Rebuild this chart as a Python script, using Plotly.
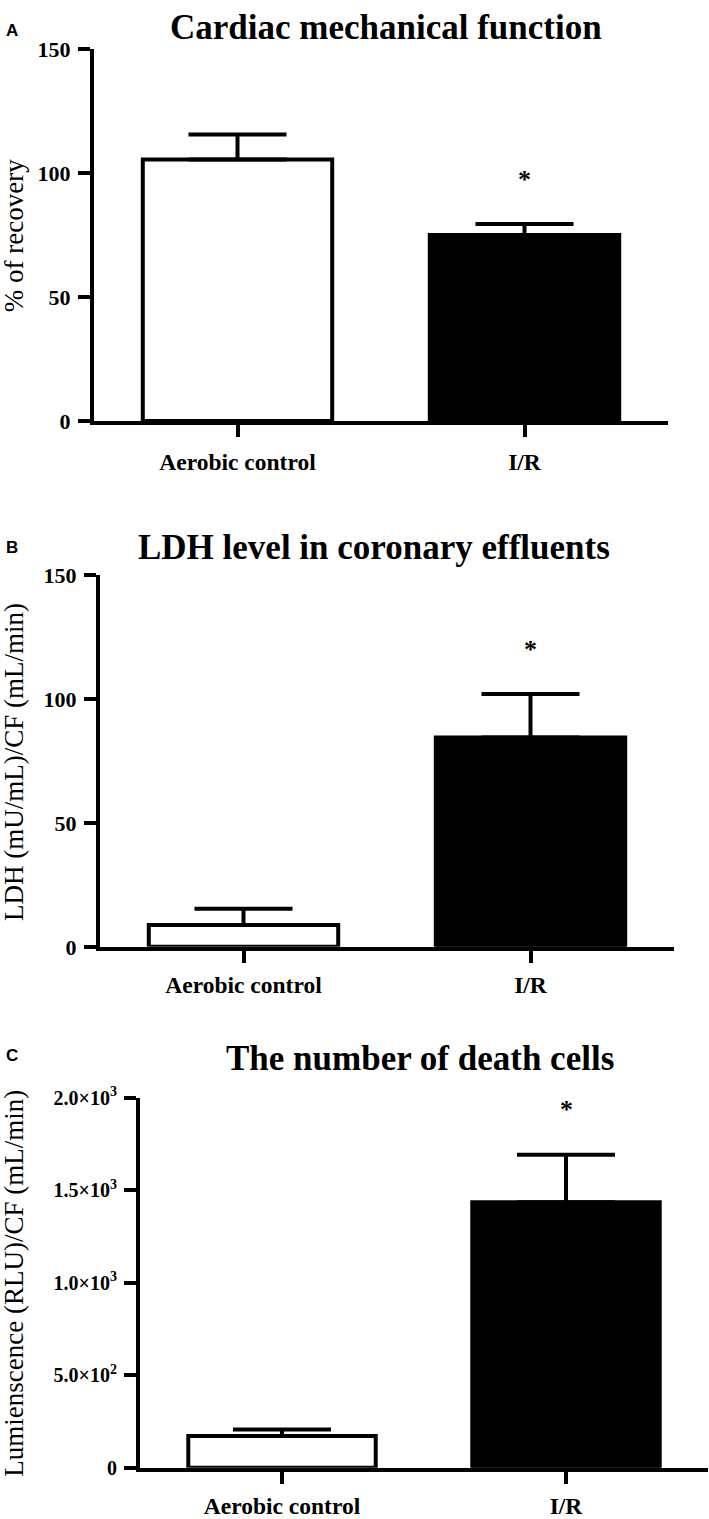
import plotly.graph_objects as go

# ---------------- data ----------------
categories = ["Aerobic control", "I/R"]

a_mean = [105.5, 75.1]
a_sem = [10.1, 4.4]

b_mean = [8.8, 84.5]
b_sem = [6.6, 17.5]

c_mean = [172, 1435]
c_sem = [35, 258]

ab_tickvals = [0, 50, 100, 150]
c_tickvals = [0, 500, 1000, 1500, 2000]
c_ticktext = ["0", "5.0×10<sup>2</sup>", "1.0×10<sup>3</sup>", "1.5×10<sup>3</sup>", "2.0×10<sup>3</sup>"]

titles = ["Cardiac mechanical function", "LDH level in coronary effluents", "The number of death cells"]
ytitles = ["% of recovery", "LDH (mU/mL)/CF (mL/min)", "Lumienscence (RLU)/CF (mL/min)"]
letters = ["A", "B", "C"]
sig_mark = ["", "*"]

# ---------------- layout geometry (pixels) ----------------
W, H = 709, 1519
SERIF = "Liberation Serif"
SANS = "Liberation Sans"

panels = [
    dict(xl=92, xr=668, yt=37, yb=418, rng=[0, 150], tv=ab_tickvals, tt=[str(v) for v in ab_tickvals], tfs=22,
         xso=5, mean=a_mean, sem=a_sem, title_xy=(386, 15), letter_xy=(12, 18)),
    dict(xl=98, xr=674, yt=573, yb=954, rng=[0, 150], tv=ab_tickvals, tt=[str(v) for v in ab_tickvals], tfs=22,
         xso=2, mean=b_mean, sem=b_sem, title_xy=(374, 545), letter_xy=(12, 545)),
    dict(xl=138, xr=708, yt=1106, yb=1485, rng=[0, 2000], tv=c_tickvals, tt=c_ticktext, tfs=20,
         xso=2, mean=c_mean, sem=c_sem, title_xy=(420, 1066), letter_xy=(12, 1063)),
]

fig = go.Figure()
annotations = []
lw = 4

for i, p in enumerate(panels):
    n = "" if i == 0 else str(i + 1)
    xa, ya = "x" + n, "y" + n
    fig.add_trace(go.Bar(
        x=categories, y=p["mean"], xaxis=xa, yaxis=ya,
        width=0.66,
        marker=dict(color=["white", "black"], line=dict(color="black", width=lw)),
        error_y=dict(type="data", array=p["sem"], arrayminus=[0, 0], symmetric=False,
                     color="black", thickness=lw, width=49),
        showlegend=False, hoverinfo="skip",
    ))
    xdom = [(p["xl"] + lw / 2) / W, p["xr"] / W]
    ydom = [1 - (p["yb"] - lw / 2) / H, 1 - p["yt"] / H]
    fig.layout["xaxis" + n] = dict(
        domain=xdom, anchor=ya, type="category", range=[-0.5, 1.5],
        showline=True, linecolor="black", linewidth=lw,
        ticks="outside", ticklen=12, tickwidth=lw, tickcolor="black",
        showgrid=False, zeroline=False, ticklabelstandoff=p["xso"],
        tickfont=dict(family=SERIF, size=23.5, color="black", weight="bold"),
    )
    fig.layout["yaxis" + n] = dict(
        domain=ydom, anchor=xa, range=p["rng"],
        tickmode="array", tickvals=p["tv"], ticktext=p["tt"],
        showline=True, linecolor="black", linewidth=lw,
        ticks="outside", ticklen=12, tickwidth=lw, tickcolor="black",
        showgrid=False, zeroline=False, ticklabelstandoff=3,
        tickfont=dict(family=SERIF, size=p["tfs"], color="black", weight="bold"),
    )
    annotations.append(dict(
        text=titles[i], xref="paper", yref="paper",
        x=p["title_xy"][0] / W, y=1 - p["title_xy"][1] / H,
        xanchor="center", yanchor="middle", showarrow=False,
        font=dict(family=SERIF, size=35, color="black", weight="bold"),
    ))
    annotations.append(dict(
        text=letters[i], xref="paper", yref="paper",
        x=p["letter_xy"][0] / W, y=1 - p["letter_xy"][1] / H,
        xanchor="center", yanchor="middle", showarrow=False,
        font=dict(family=SANS, size=17, color="black", weight="bold"),
    ))
    annotations.append(dict(
        text=ytitles[i], xref="paper", yref="paper",
        x=14 / W, y=1 - ((p["yt"] + p["yb"]) / 2) / H,
        xanchor="center", yanchor="middle", showarrow=False, textangle=-90,
        font=dict(family=SERIF, size=27, color="black"),
    ))
    for c, m, s, mk in zip(categories, p["mean"], p["sem"], sig_mark):
        if mk:
            annotations.append(dict(
                text=mk, xref=xa, yref=ya, x=c, y=m + s, yshift=45,
                xanchor="center", yanchor="middle", showarrow=False,
                font=dict(family=SERIF, size=26, color="black", weight="bold"),
            ))

fig.update_layout(
    width=W, height=H,
    margin=dict(l=0, r=0, t=0, b=0),
    paper_bgcolor="white", plot_bgcolor="white",
    annotations=annotations,
    bargap=0.3,
)

reset_css = (
    "document.documentElement.style.margin='0';"
    "document.body.style.margin='0';document.body.style.padding='0';"
    "document.documentElement.style.overflow='hidden';document.body.style.overflow='hidden';"
)
fig.write_html("out.html", post_script=reset_css, config={"displayModeBar": False})
